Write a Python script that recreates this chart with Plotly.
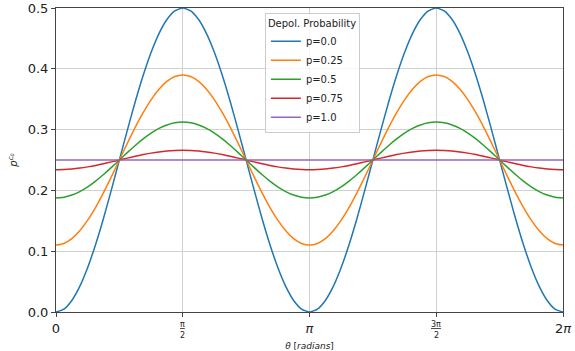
import numpy as np
import plotly.graph_objects as go

# theta sampled every pi/32 over [0, 2pi]
theta = np.linspace(0, 2 * np.pi, 65)

half_p00 = [0.0, 0.0048, 0.019, 0.0421, 0.0732, 0.1111, 0.1543, 0.2012, 0.25,
            0.2988, 0.3457, 0.3889, 0.4268, 0.4579, 0.481, 0.4952, 0.5]
half_p025 = [0.11, 0.1127, 0.1207, 0.1336, 0.151, 0.1722, 0.1964, 0.2227, 0.25,
             0.2773, 0.3036, 0.3278, 0.349, 0.3664, 0.3793, 0.3873, 0.39]
half_p05 = [0.1875, 0.1887, 0.1923, 0.198, 0.2058, 0.2153, 0.2261, 0.2378, 0.25,
            0.2622, 0.2739, 0.2847, 0.2942, 0.302, 0.3077, 0.3113, 0.3125]
half_p075 = [0.234, 0.2343, 0.2352, 0.2367, 0.2387, 0.2411, 0.2439, 0.2469, 0.25,
             0.2531, 0.2561, 0.2589, 0.2613, 0.2633, 0.2648, 0.2657, 0.266]
half_p10 = [0.25] * 17


def full(h):
    # one period rises then falls, repeated twice
    period = h + h[-2::-1]
    return period + period[1:]


series = {
    "p=0.0": full(half_p00),
    "p=0.25": full(half_p025),
    "p=0.5": full(half_p05),
    "p=0.75": full(half_p075),
    "p=1.0": full(half_p10),
}
colors = ["#1f77b4", "#ff7f0e", "#2ca02c", "#d62728", "#9467bd"]

major_vals = [0, np.pi, 2 * np.pi]
major_text = ["0", "<i>π</i>", "2<i>π</i>"]
frac_ticks = [(np.pi / 2, "π"), (3 * np.pi / 2, "3π")]

fig = go.Figure()
for (name, vals), c in zip(series.items(), colors):
    fig.add_trace(go.Scatter(x=theta, y=vals, mode="lines", name=name,
                             line=dict(color=c, width=1.5, shape="spline", smoothing=0.6)))

for xv, num in frac_ticks:
    fig.add_annotation(x=xv, xref="x", y=0, yref="paper", yanchor="top",
                       yshift=-6, text=f"<u>{num}</u>", showarrow=False,
                       font=dict(size=8, color="#222"))
    fig.add_annotation(x=xv, xref="x", y=0, yref="paper", yanchor="top",
                       yshift=-17, text="2", showarrow=False,
                       font=dict(size=8, color="#222"))

fig.update_layout(
    width=575, height=351,
    margin=dict(l=56, r=12, t=8, b=39),
    plot_bgcolor="white", paper_bgcolor="white",
    font=dict(family="DejaVu Sans", color="#222"),
    showlegend=True,
    legend=dict(
        title=dict(text="Depol. Probability", font=dict(size=10)),
        font=dict(size=10),
        x=0.412, y=0.984, xanchor="left", yanchor="top",
        bordercolor="#cccccc", borderwidth=1, bgcolor="rgba(255,255,255,0.8)",
        tracegroupgap=0, itemwidth=30,
    ),
    xaxis=dict(
        range=[0, 2 * np.pi], tickmode="array", tickvals=major_vals, ticktext=major_text,
        showgrid=True, gridcolor="#d0d0d0", gridwidth=1,
        minor=dict(tickmode="array", tickvals=[np.pi / 2, 3 * np.pi / 2], ticks="outside",
                   ticklen=4, tickcolor="#444", showgrid=True, gridcolor="#d0d0d0", gridwidth=1),
        showline=True, linecolor="#444", linewidth=1, mirror=True,
        ticks="outside", ticklen=4, tickcolor="#444", tickfont=dict(size=13),
        zeroline=False, automargin=False,
        title=dict(text="<i>θ</i> [<i>radians</i>]", font=dict(size=9), standoff=14),
    ),
    yaxis=dict(
        range=[0, 0.5], tickvals=[0, 0.1, 0.2, 0.3, 0.4, 0.5],
        ticktext=["0.0", "0.1", "0.2", "0.3", "0.4", "0.5"],
        showgrid=True, gridcolor="#d0d0d0", gridwidth=1,
        showline=True, linecolor="#444", linewidth=1, mirror=True,
        ticks="outside", ticklen=4, tickcolor="#444", tickfont=dict(size=13),
        zeroline=False, automargin=False,
        title=dict(text="<i>p<sup>c<sub>0</sub></sup></i>", font=dict(size=10), standoff=8),
    ),
)

fig.write_html("out.html")
